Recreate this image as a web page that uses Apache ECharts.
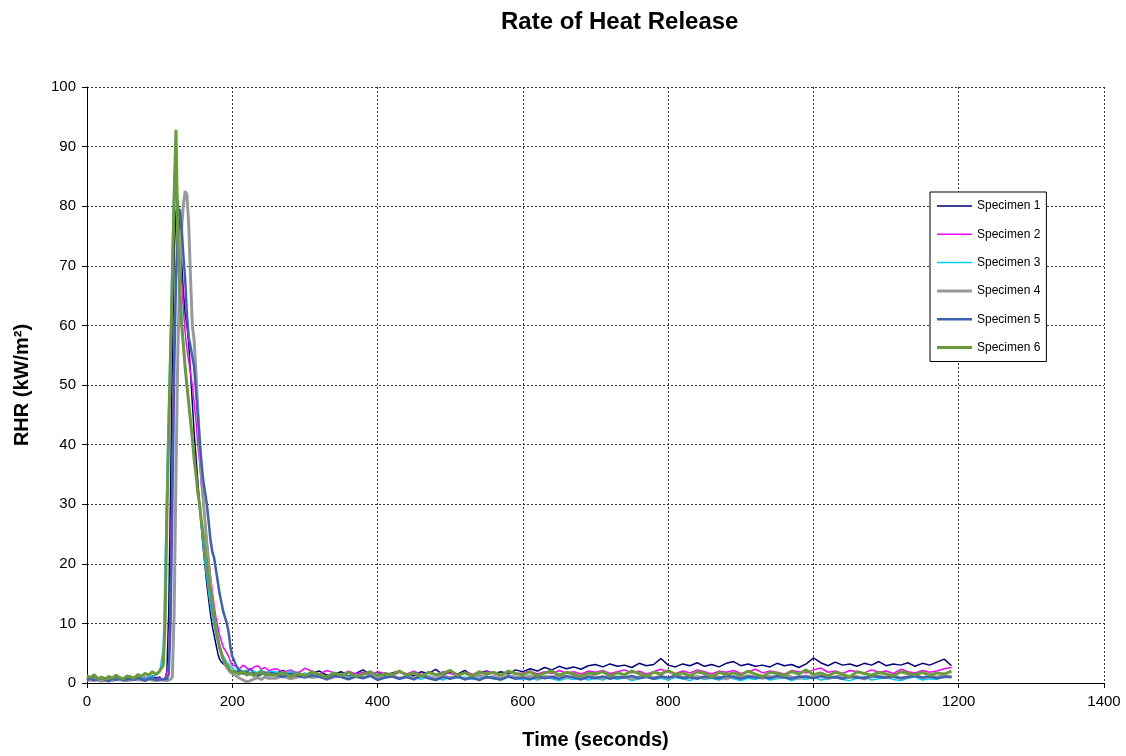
<!DOCTYPE html>
<html>
<head>
<meta charset="utf-8">
<title>Rate of Heat Release</title>
<script src="https://cdn.jsdelivr.net/npm/echarts@6/dist/echarts.min.js"></script>
<style>
  html, body { margin: 0; padding: 0; background: #fff; }
  #chart { width: 1126px; height: 756px; }
</style>
</head>
<body>
<div id="chart"></div>
<script>
// Sampling instants (s): 5 s steps before ignition, 2.5 s through the peak,
// 5 s on the tail, 10 s for the long smouldering phase.
function steps(from, to, step) {
  const out = [];
  for (let t = from; t <= to + 1e-9; t += step) out.push(+t.toFixed(1));
  return out;
}
const time = [].concat(steps(0, 100, 5), steps(102.5, 200, 2.5), steps(205, 250, 5), steps(260, 1190, 10));

const xTicks = [0, 200, 400, 600, 800, 1000, 1200, 1400];
const yTicks = [0, 10, 20, 30, 40, 50, 60, 70, 80, 90, 100];

const seriesNames = ['Specimen 1', 'Specimen 2', 'Specimen 3', 'Specimen 4', 'Specimen 5', 'Specimen 6'];

// RHR readings in kW/m², one value per sampling instant
const specimen1 = [
  0.8,0.5,1.0,0.4,0.6,0.9,0.3,0.7,1.1,0.5,0.6,0.8,0.4,1.0,0.7,0.5,0.9,0.6,1.2,0.8,1.0,
  0.6,0.5,0.8,2.0,12,32,55,72,79,81, 78,71,66,62,60,57,52,47,42,38,
  34,30,26,22.5,19.5,16.5,14,11.5,9.5,8, 6.5,5,4,3.5,3.6,3.0,2.6,2.4,2.2,2.0,
  1.8,2.2,1.5,1.9,2.4,1.7,1.4,2.0,1.6,1.9,
  1.6,2.1,1.4,1.8,1.2,1.7,2.0,1.3,1.5,1.9,1.1,1.6,2.2,1.4,1.8,1.3,1.7,2.0,1.5,1.2,
  1.9,1.6,2.3,1.4,1.8,1.5,2.1,1.3,1.7,2.0,1.6,1.9,1.5,2.2,
  1.9,2.4,2.0,2.6,2.2,2.8,2.4,2.7,2.3,2.9,
  3.1,2.7,3.2,2.8,3.0,2.6,3.3,2.9,3.1,4.1, 3.0,2.7,3.2,2.9,3.4,2.8,3.1,2.7,3.3,3.6,
  2.9,3.2,2.8,3.0,2.7,3.3,2.9,3.1,2.6,3.2, 4.2,3.4,2.9,3.5,3.0,3.2,2.8,3.3,3.0,3.6,
  2.9,3.2,3.0,3.4,2.8,3.3,3.0,3.5,4.0,2.9
];
const specimen2 = [
  0.3,0.6,0.4,0.8,0.5,0.3,0.7,0.4,0.6,0.9,0.5,0.3,0.8,0.6,0.4,0.7,1.0,0.5,0.8,0.6,0.9,
  0.5,0.4,0.6,0.8,3,18,40,58,68,73, 72,68,63,59,56,54,52,50,47,44,
  40,37,33,30,27,24,21,18,15.5,13, 11,9.5,8,7,6,5.5,5,4.5,3.5,3,
  2.8,2.4,3.0,2.5,2.2,2.7,2.9,2.3,2.6,2.1,
  2.4,1.8,2.2,1.6,2.5,1.9,1.5,2.1,1.7,1.4,2.0,1.5,1.8,1.3,1.9,1.6,1.2,1.8,1.5,2.0,
  1.4,1.7,1.3,1.9,1.6,1.2,1.8,1.5,1.4,1.9,1.6,1.3,1.8,1.5,
  1.7,2.0,1.5,1.9,1.6,2.1,1.7,1.9,1.5,2.0,
  1.8,2.1,1.6,1.9,2.2,1.7,2.0,1.5,1.9,2.3, 1.8,1.6,2.0,1.7,2.2,1.9,1.5,2.0,1.8,2.1,
  1.6,1.9,2.3,1.7,2.0,1.8,1.5,2.1,1.9,1.7, 2.2,2.5,1.8,2.0,1.6,2.1,1.9,1.7,2.2,1.8,
  2.0,1.6,2.3,1.9,1.7,2.1,1.8,2.0,2.4,2.6
];
const specimen3 = [
  1.0,0.7,1.2,0.6,0.9,0.5,1.1,0.8,0.6,1.0,0.7,0.9,1.2,0.6,0.8,1.0,0.7,1.3,0.9,1.5,1.8,
  1.5,6,20,35,48,60,74,85,88,80, 70,63,58,54,50,47,44,41,38,35,
  32,29,26,23,20,17.5,15,13,11,9.5, 8,7,6,5,4.5,4,3.5,3.2,2.8,2.5,
  2.0,2.4,1.8,2.2,1.6,2.0,1.7,2.3,1.5,1.9,
  1.9,1.4,2.0,1.3,1.7,1.1,1.5,0.9,1.3,1.6,1.0,1.4,0.8,1.2,1.5,0.9,1.1,0.7,1.3,1.0,
  0.6,1.2,0.9,0.5,1.1,0.8,1.0,0.6,0.9,1.2,0.7,0.5,1.0,0.8,
  0.6,0.9,0.5,1.0,0.7,0.4,0.8,0.6,1.0,0.5,
  0.8,0.5,1.0,0.6,0.9,0.4,0.7,1.1,0.6,0.8, 0.5,0.9,0.7,0.4,1.0,0.6,0.8,0.5,0.9,0.7,
  0.4,0.8,0.6,1.0,0.5,0.7,0.9,0.4,0.8,0.6, 1.0,0.5,0.7,0.9,0.6,0.4,0.8,1.1,0.5,0.7,
  0.9,0.6,0.4,0.8,1.0,0.5,0.7,0.6,1.2,0.9
];
const specimen4 = [
  0.6,0.4,0.7,0.5,0.3,0.6,0.5,0.4,0.7,0.5,0.6,0.4,0.5,0.7,0.6,0.5,0.4,0.6,0.5,0.4,0.5,
  0.4,0.5,0.3,0.4,0.5,0.6,1.0,12,35,55, 68,76,80,82.5,82,77,68,60,57.5,52,
  46,40,35,31,27,23.5,20,16.5,13.5,11, 9,7.5,6,5,4,3.2,2.6,2.2,1.8,1.5,
  1.2,0.8,0.5,0.2,0.4,0.7,0.9,0.6,1.0,0.8,
  0.8,1.2,0.7,1.0,1.3,0.9,1.1,0.6,1.0,1.2,0.8,1.1,0.9,1.3,0.7,1.0,1.2,0.8,1.1,0.9,
  1.4,1.0,0.8,1.2,0.9,1.1,0.7,1.0,1.3,0.9,1.1,0.8,1.2,1.0,
  0.9,1.2,0.8,1.1,1.0,1.3,0.9,1.1,0.8,1.2,
  1.0,0.8,1.2,0.9,1.1,0.7,1.0,1.3,0.9,1.1, 0.8,1.2,1.0,0.9,1.1,0.8,1.2,1.0,0.7,1.1,
  0.9,1.2,1.0,0.8,1.1,0.9,1.3,1.0,0.8,1.2, 0.9,1.1,0.8,1.0,1.2,0.9,1.1,0.7,1.0,1.2,
  0.9,1.1,0.8,1.0,1.3,0.9,1.1,1.0,1.2,0.9
];
const specimen5 = [
  0.5,0.8,0.4,0.6,0.9,0.5,0.3,0.7,0.5,0.8,0.4,0.6,0.7,0.5,0.9,0.6,0.4,0.8,0.7,0.5,0.6,
  0.5,0.6,0.5,0.7,1.5,10,30,52,68,76, 79.5,77,72,68,62,58,56.5,56.5,53,49,
  45,41,37,34,32,30,27,24,22,21, 19,17,15,13.5,12,11,10,8.5,6,4.5,
  3.0,2.0,1.6,1.9,1.4,1.7,1.2,1.5,1.8,1.3,
  1.4,1.0,1.6,1.2,0.9,1.3,1.1,0.7,1.2,1.0,0.6,1.1,0.8,1.2,0.5,0.9,1.1,0.7,1.0,0.6,
  1.2,0.8,0.5,1.0,0.7,1.1,0.6,0.9,0.5,1.0,0.8,0.6,1.1,0.7,
  0.9,0.6,1.1,0.8,1.0,0.7,1.2,0.9,0.6,1.0,
  0.8,1.1,0.7,1.0,0.9,1.2,0.8,1.0,0.7,1.1, 0.9,1.2,0.8,1.0,0.7,1.1,0.9,0.8,1.2,1.0,
  0.7,1.1,0.9,1.0,0.8,1.2,0.9,0.7,1.1,1.0, 0.8,1.2,0.9,1.0,0.7,1.1,0.9,0.8,1.2,1.0,
  0.9,1.1,0.8,1.0,1.2,0.9,1.1,0.8,1.0,1.1
];
const specimen6 = [
  1.2,0.9,1.4,0.7,1.0,0.6,1.1,0.8,1.3,0.9,0.7,1.2,1.0,0.8,1.4,1.1,1.6,1.3,1.9,1.4,2.0,
  2.0,3.0,10,28,42,55,68,82,92.8,75, 66,60.5,57,53,50,47,44,41,37.5,35,
  32,30,27,25,22,20,17,15,13,11, 9,7.5,6,5,4,3.5,3,2.5,2,2,
  1.8,1.5,2.0,1.3,1.7,1.2,1.6,1.9,1.4,1.5,
  1.3,1.8,1.0,1.6,1.2,1.9,1.4,1.0,1.7,1.3,1.8,1.1,1.5,1.9,1.2,1.6,1.4,2.0,1.3,1.7,
  1.1,1.8,1.4,1.6,2.1,1.3,1.7,1.2,1.9,1.5,1.8,1.3,2.0,1.6,
  1.4,1.9,1.2,1.7,2.0,1.3,1.8,1.5,1.1,1.7,
  1.5,1.9,1.2,1.7,1.4,2.0,1.6,1.1,1.8,1.5, 2.1,1.4,1.7,1.2,1.9,1.6,1.0,1.8,1.4,1.7,
  1.3,2.0,1.5,1.1,1.8,1.6,1.3,1.9,1.5,2.2, 1.4,1.7,1.2,1.8,1.5,1.0,1.9,1.6,1.3,1.8,
  1.5,1.2,1.9,1.6,1.4,1.8,1.3,1.7,1.5,2.0
];

const specimens = [specimen1, specimen2, specimen3, specimen4, specimen5, specimen6];
const colors = ['#000080', '#FF00FF', '#00CCFF', '#999999', '#3F62B0', '#6A9A3A'];
const widths = [1.5, 1.5, 1.5, 3, 2.5, 3];

// Legend key: a plain horizontal stroke of the series' own thickness.
// The hair-thin sliver at the left keeps the icon box 35 x 14 so the stroke is not stretched.
function strokeIcon(w) {
  const y0 = 7 - w / 2;
  return 'path://M0,0h0.01v14h-0.01zM0,' + y0 + 'h35v' + w + 'h-35z';
}

const chart = echarts.init(document.getElementById('chart'), null, { renderer: 'canvas' });

const font = 'Arial, "Liberation Sans", sans-serif';

chart.setOption({
  animation: false,
  backgroundColor: '#fff',
  title: {
    text: 'Rate of Heat Release',
    left: 496,
    top: 5,
    textStyle: { fontFamily: font, fontSize: 24, fontWeight: 'bold', color: '#000' }
  },
  grid: { left: 87, right: 22, top: 87, bottom: 73, containLabel: false },
  legend: {
    orient: 'vertical',
    left: 930,
    top: 192,
    data: seriesNames.map((n, k) => ({ name: n, icon: strokeIcon(widths[k]), itemStyle: { color: colors[k] } })),
    itemWidth: 35,
    itemHeight: 14,
    itemGap: 14.3,
    padding: [7, 6, 7, 7],
    borderColor: '#000',
    borderWidth: 1,
    backgroundColor: '#fff',
    textStyle: { fontFamily: font, fontSize: 12, color: '#000' }
  },
  xAxis: {
    type: 'value',
    min: xTicks[0],
    max: xTicks[xTicks.length - 1],
    interval: 200,
    name: 'Time (seconds)',
    nameLocation: 'middle',
    nameGap: 47,
    nameTextStyle: { fontFamily: font, fontSize: 20, fontWeight: 'bold', color: '#000' },
    axisLine: { show: true, onZero: false, lineStyle: { color: '#000', width: 1 } },
    axisTick: { show: true, inside: false, length: 5, lineStyle: { color: '#000' } },
    axisLabel: { margin: 11, fontFamily: font, fontSize: 15, color: '#000', formatter: v => String(v) },
    splitLine: { show: true, lineStyle: { color: '#333', width: 1, type: [2, 2] } }
  },
  yAxis: {
    type: 'value',
    min: yTicks[0],
    max: yTicks[yTicks.length - 1],
    interval: 10,
    name: 'RHR (kW/m²)',
    nameLocation: 'middle',
    nameGap: 55,
    nameRotate: 90,
    nameTextStyle: { fontFamily: font, fontSize: 20, fontWeight: 'bold', color: '#000' },
    axisLine: { show: true, lineStyle: { color: '#000', width: 1 } },
    axisTick: { show: true, inside: false, length: 5, lineStyle: { color: '#000' } },
    axisLabel: { margin: 11, fontFamily: font, fontSize: 15, color: '#000', formatter: v => String(v) },
    splitLine: { show: true, lineStyle: { color: '#333', width: 1, type: [2, 2] } }
  },
  series: specimens.map((vals, k) => ({
    name: seriesNames[k],
    type: 'line',
    symbol: 'none',
    color: colors[k],
    lineStyle: { color: colors[k], width: widths[k] },
    data: time.map((t, i) => [t, vals[i]])
  }))
});
</script>
</body>
</html>
